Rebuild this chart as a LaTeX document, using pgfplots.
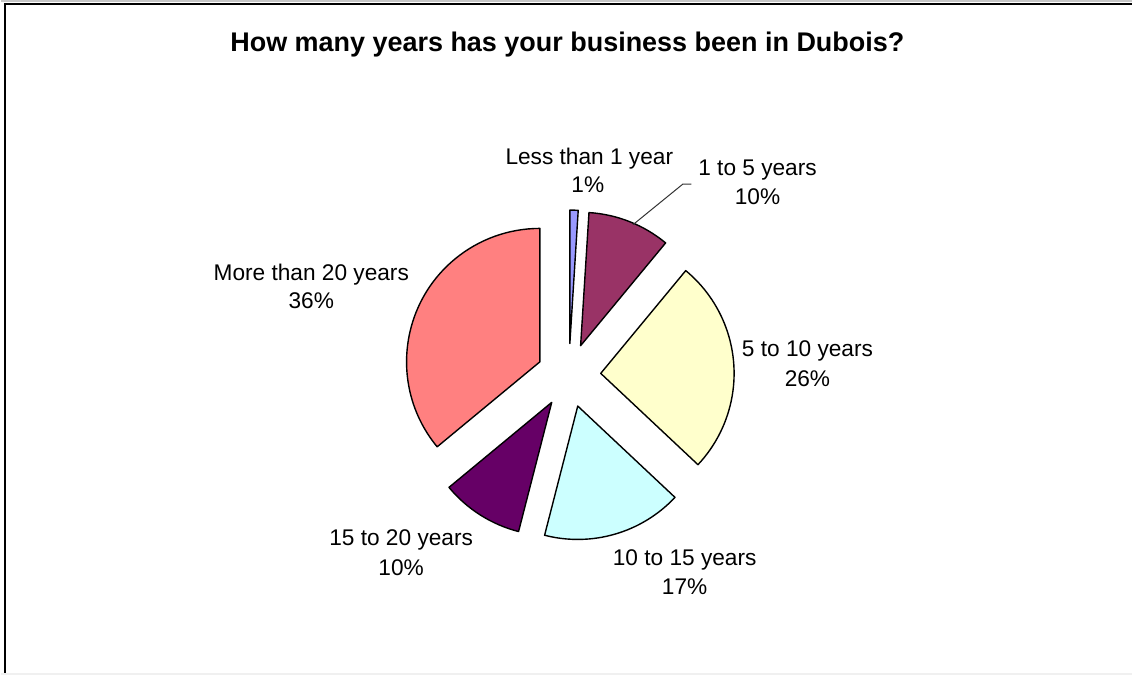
\documentclass[border=0pt]{standalone}
\usepackage{pgfplots}
\pgfplotsset{compat=1.18}
\usepackage{pgfplotstable}
\usepackage{fontspec}
\setmainfont{Liberation Sans}
\usetikzlibrary{calc}
\definecolor{c1}{HTML}{9999FF}
\definecolor{c2}{HTML}{993366}
\definecolor{c3}{HTML}{FFFFCC}
\definecolor{c4}{HTML}{CCFFFF}
\definecolor{c5}{HTML}{660066}
\definecolor{c6}{HTML}{FF8080}
\newcommand\lab{\fontsize{11.35}{13.6}\selectfont}

% share of each answer (percent), clockwise from 12 o'clock
\pgfplotstableread{
pct col
1  c1
10 c2
26 c3
17 c4
10 c5
36 c6
}\pietable

\begin{document}
\begin{tikzpicture}
\begin{axis}[width=566.5pt,height=338pt,scale only axis,
  xmin=0,xmax=1133,ymin=0,ymax=676,y dir=reverse,
  axis lines=none,clip=false]
\pgfplotsextra{%
  \gdef\piecum{0}%
  \pgfplotstablegetrowsof{\pietable}%
  \pgfmathtruncatemacro\nrows{\pgfplotsretval-1}%
  \pgfplotsforeachungrouped \i in {0,...,\nrows}{%
    \pgfplotstablegetelem{\i}{pct}\of\pietable\let\pct\pgfplotsretval
    \pgfplotstablegetelem{\i}{col}\of\pietable\let\col\pgfplotsretval
    \pgfmathsetmacro\sa{90-3.6*\piecum}%
    \pgfmathsetmacro\ea{90-3.6*(\piecum+\pct)}%
    \pgfmathsetmacro\ma{(\sa+\ea)/2}%
    \pgfmathsetmacro\newcum{\piecum+\pct}\global\let\piecum\newcum
    \filldraw[fill=\col,draw=black,line width=0.7pt,line join=round]
      ($(axis cs:569,376)+(\ma:16pt)$) -- ++(\sa:66.8pt)
      arc[start angle=\sa,end angle=\ea,radius=66.8pt] -- cycle;
  }%
}
% frame
\draw[gray!45,line width=0.8pt] (axis cs:0,0.8) -- (axis cs:1133,0.8);
\draw[black,line width=1.1pt] (axis cs:4,676) -- (axis cs:4,3.8) -- (axis cs:1133,3.8);
\draw[gray!12,line width=0.8pt] (axis cs:0,675.2) -- (axis cs:1133,675.2);
% title
\node[anchor=base,font=\fontsize{13.5}{16}\selectfont\bfseries] at (axis cs:567.5,51.7)
  {How many years has your business been in Dubois?};
% labels
\node[anchor=base,font=\lab] at (axis cs:589.5,165) {Less than 1 year};
\node[anchor=base,font=\lab] at (axis cs:588,193.3) {1\%};
\node[anchor=base,font=\lab] at (axis cs:758,175.5) {1 to 5 years};
\node[anchor=base,font=\lab] at (axis cs:758,204.5) {10\%};
\node[anchor=base,font=\lab] at (axis cs:808,357.5) {5 to 10 years};
\node[anchor=base,font=\lab] at (axis cs:808,387) {26\%};
\node[anchor=base,font=\lab] at (axis cs:685,566.7) {10 to 15 years};
\node[anchor=base,font=\lab] at (axis cs:685,595) {17\%};
\node[anchor=base,font=\lab] at (axis cs:401,546.7) {15 to 20 years};
\node[anchor=base,font=\lab] at (axis cs:401,576.7) {10\%};
\node[anchor=base,font=\lab] at (axis cs:311,280.7) {More than 20 years};
\node[anchor=base,font=\lab] at (axis cs:311,309.3) {36\%};
% leader line
\draw[black!80,line width=0.5pt] (axis cs:691.7,184.3) -- (axis cs:683.3,184.3) -- (axis cs:633.3,225);
\end{axis}
\end{tikzpicture}
\end{document}
